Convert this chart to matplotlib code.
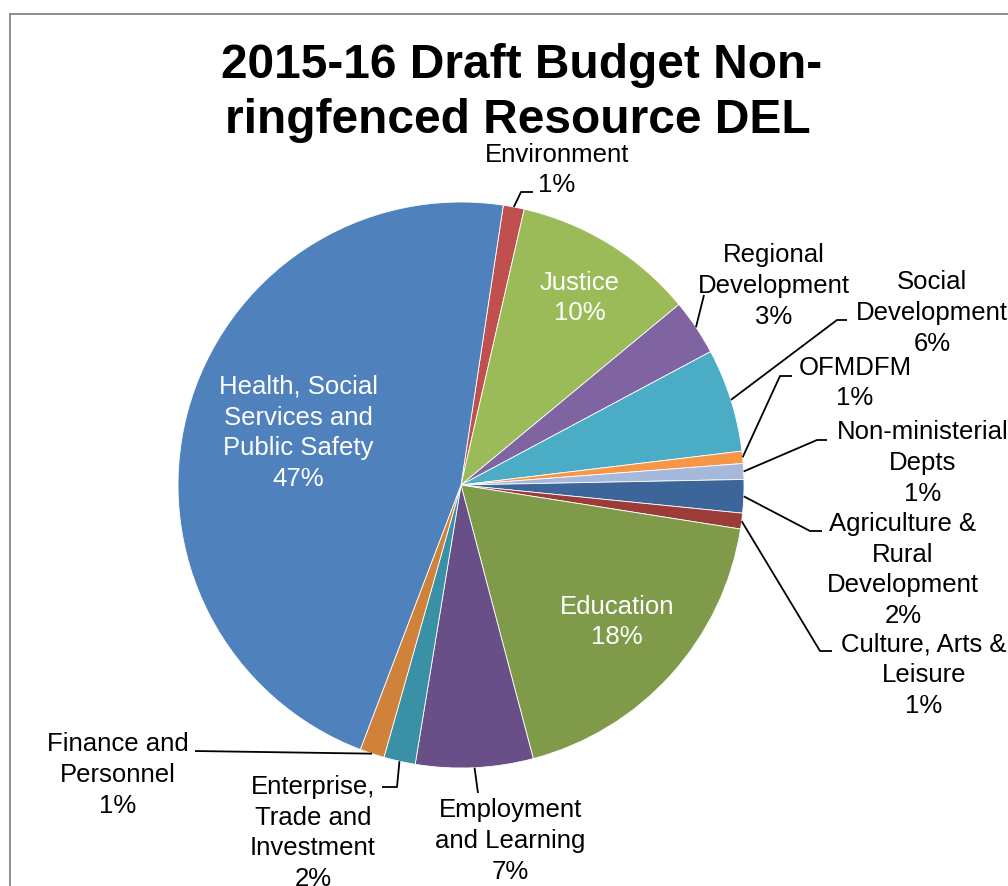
import matplotlib.pyplot as plt
from matplotlib.patches import Rectangle
import numpy as np

plt.rcParams['font.family'] = ['Liberation Sans', 'DejaVu Sans']

# -----------------------------
# DATA (share of budget, %)
# -----------------------------
departments = [
    "Environment", "Justice", "Regional\nDevelopment", "Social\nDevelopment",
    "OFMDFM", "Non-ministerial\nDepts", "Agriculture &\nRural\nDevelopment",
    "Culture, Arts &\nLeisure", "Education", "Employment\nand Learning",
    "Enterprise,\nTrade and\nInvestment", "Finance and\nPersonnel",
    "Health, Social\nServices and\nPublic Safety",
]
shares = [1.2, 10.4, 3.2, 5.9, 0.7, 0.9, 1.9, 0.9, 18.4, 6.7, 1.8, 1.4, 46.6]
colors = ["#C0504D", "#9BBB59", "#8064A2", "#4BACC6", "#F79646", "#A7B9DA",
          "#3C6699", "#9C3C39", "#7F9A48", "#684F88", "#3A90A4", "#D0813A",
          "#4F81BD"]

# label layout in pixels (top-left origin): text centre, leader line points
inside = {"Justice": (580, 298), "Education": (617, 622),
          "Health, Social\nServices and\nPublic Safety": (298, 433)}
outside = {
    "Environment": ((557, 170), [(521, 193), (533, 193)]),
    "Regional\nDevelopment": ((774, 286), [(704, 296)]),
    "Social\nDevelopment": ((932, 313), [(837, 321), (847, 321)]),
    "OFMDFM": ((855, 383), [(780, 377), (792, 377)]),
    "Non-ministerial\nDepts": ((923, 463), [(817, 441), (827, 441)]),
    "Agriculture &\nRural\nDevelopment": ((903, 570), [(810, 532), (822, 532)]),
    "Culture, Arts &\nLeisure": ((924, 675), [(820, 652), (832, 652)]),
    "Employment\nand Learning": ((510, 841), [(478, 794)]),
    "Enterprise,\nTrade and\nInvestment": ((313, 833), [(397, 788), (382, 788)]),
    "Finance and\nPersonnel": ((118, 775), [(195, 752)]),
}

W, H = 1008, 887
cx, cy, r = 461, 486, 283

fig = plt.figure(figsize=(W / 100, H / 100), dpi=100)
ax = fig.add_axes([0, 0, 1, 1])

wedges, _ = ax.pie(shares, colors=colors, startangle=81.4, counterclock=False,
                   center=(cx, H - cy), radius=r,
                   wedgeprops=dict(edgecolor="white", linewidth=0.6))
ax.set_xlim(0, W)
ax.set_ylim(0, H)
ax.set_aspect("equal")
ax.axis("off")

# chart area border (runs off the right and bottom edges)
fig.patches.append(Rectangle((10 / W, -0.2), 1.2, 1.2 - 15 / H,
                             transform=fig.transFigure, fill=False,
                             edgecolor="#868686", linewidth=1.3))

# title
ax.text(522, H - 78, "2015-16 Draft Budget Non-", ha="center", va="baseline",
        fontsize=34.5, fontweight="bold")
ax.text(518, H - 133, "ringfenced Resource DEL", ha="center", va="baseline",
        fontsize=34.5, fontweight="bold")

# labels
for name, share, w in zip(departments, shares, wedges):
    text = f"{name}\n{round(share)}%"
    if name in inside:
        x, y = inside[name]
        ax.text(x, H - y, text, ha="center", va="center", color="white",
                fontsize=18.5, linespacing=1.36, multialignment="center")
        continue
    (x, y), pts = outside[name]
    ax.text(x, H - y, text, ha="center", va="center", color="black",
            fontsize=18.5, linespacing=1.36, multialignment="center")
    mid = np.radians((w.theta1 + w.theta2) / 2)
    xs = [cx + r * np.cos(mid)] + [p[0] for p in pts]
    ys = [H - cy + r * np.sin(mid)] + [H - p[1] for p in pts]
    ax.plot(xs, ys, color="black", linewidth=1.3, solid_capstyle="butt")

fig.savefig("out.png", dpi=100)
